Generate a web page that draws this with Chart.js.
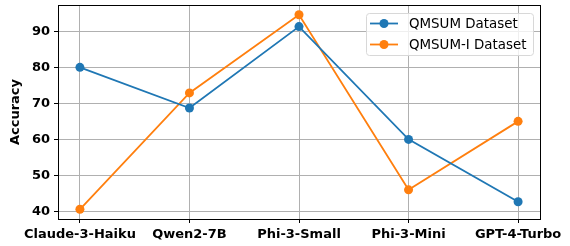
<!DOCTYPE html>
<html>
<head>
<meta charset="utf-8">
<script src="https://cdn.jsdelivr.net/npm/chart.js@4/dist/chart.umd.min.js"></script>
<style>
  html, body { margin: 0; padding: 0; background: #fff; }
  #wrap { width: 570px; height: 246px; }
</style>
</head>
<body>
<div id="wrap"><canvas id="chart" width="570" height="246"></canvas></div>
<script>
const models = ["Claude-3-Haiku", "Qwen2-7B", "Phi-3-Small", "Phi-3-Mini", "GPT-4-Turbo"];
const qmsum = [80.0, 68.7, 91.3, 60.0, 42.7];
const qmsumI = [40.6, 72.9, 94.6, 46.0, 65.0];
const yTicks = [40, 50, 60, 70, 80, 90];

const FONT = "'DejaVu Sans', sans-serif";
const BLUE = "#1f77b4";
const ORANGE = "#ff7f0e";

// legenda di dalam area plot, gaya matplotlib
const legendBox = {
    id: "legendBox",
    afterDraw(chart) {
        const ctx = chart.ctx;
        const a = chart.chartArea;
        const x0 = Math.round(a.right) - 174, y0 = Math.round(a.top) + 8, w = 167, h = 42;
        ctx.save();
        ctx.fillStyle = "rgba(255,255,255,0.8)";
        ctx.strokeStyle = "#d8d8d8";
        ctx.lineWidth = 1;
        ctx.beginPath();
        ctx.roundRect(x0 + 0.5, y0 + 0.5, w, h, 3);
        ctx.fill();
        ctx.stroke();
        const items = [["QMSUM Dataset", BLUE], ["QMSUM-I Dataset", ORANGE]];
        items.forEach((it, i) => {
            const cy = y0 + 10.5 + i * 21;
            ctx.strokeStyle = it[1];
            ctx.lineWidth = 1.8;
            ctx.beginPath();
            ctx.moveTo(x0 + 4, cy);
            ctx.lineTo(x0 + 32, cy);
            ctx.stroke();
            ctx.fillStyle = it[1];
            ctx.beginPath();
            ctx.arc(x0 + 18, cy, 4.5, 0, Math.PI * 2);
            ctx.fill();
            ctx.fillStyle = "#000";
            ctx.font = "13.4px " + FONT;
            ctx.textBaseline = "middle";
            ctx.fillText(it[0], x0 + 43, cy + 1);
        });
        ctx.restore();
    }
};

// bingkai hitam di sekitar area plot
const frame = {
    id: "frame",
    afterDatasetsDraw(chart) {
        const ctx = chart.ctx, a = chart.chartArea;
        ctx.save();
        ctx.strokeStyle = "#000";
        ctx.lineWidth = 1;
        ctx.strokeRect(Math.round(a.left) + 0.5, Math.round(a.top) + 0.5,
            Math.round(a.right - a.left), Math.round(a.bottom - a.top));
        ctx.restore();
    }
};

function toPoints(vals) {
    return vals.map((v, i) => ({ x: i, y: v }));
}

function noPad(scale) {
    scale.paddingTop = 0;
    scale.paddingBottom = 0;
    scale.paddingLeft = 0;
    scale.paddingRight = 0;
}

new Chart(document.getElementById("chart"), {
    type: "line",
    data: {
        datasets: [
            {
                label: "QMSUM Dataset",
                data: toPoints(qmsum),
                borderColor: BLUE,
                backgroundColor: BLUE,
                borderWidth: 1.8,
                pointRadius: 4.5,
                pointHoverRadius: 4.5,
                pointBorderWidth: 0,
                tension: 0
            },
            {
                label: "QMSUM-I Dataset",
                data: toPoints(qmsumI),
                borderColor: ORANGE,
                backgroundColor: ORANGE,
                borderWidth: 1.8,
                pointRadius: 4.5,
                pointHoverRadius: 4.5,
                pointBorderWidth: 0,
                tension: 0
            }
        ]
    },
    options: {
        responsive: false,
        animation: false,
        layout: { padding: { top: 5, right: 30, left: 0, bottom: 0 } },
        plugins: {
            legend: { display: false },
            tooltip: { enabled: false }
        },
        scales: {
            x: {
                type: "linear",
                min: -0.2,
                max: 4.2,
                afterBuildTicks(scale) {
                    scale.ticks = models.map((m, i) => ({ value: i }));
                },
                afterFit(scale) { scale.height = 27; noPad(scale); },
                grid: {
                    color: "#b0b0b0",
                    lineWidth: 1,
                    drawTicks: true,
                    tickLength: 4,
                    tickColor: "#000"
                },
                border: { display: false },
                ticks: {
                    color: "#000",
                    padding: 4,
                    maxRotation: 0,
                    autoSkip: false,
                    font: { family: FONT, size: 13, weight: "bold" },
                    callback: (v) => models[v]
                }
            },
            y: {
                min: 37.9,
                max: 97.3,
                afterBuildTicks(scale) {
                    scale.ticks = yTicks.map(v => ({ value: v }));
                },
                afterFit(scale) { scale.width = 58; noPad(scale); },
                title: {
                    display: true,
                    text: "Accuracy",
                    color: "#000",
                    padding: { top: 8, bottom: 0 },
                    font: { family: FONT, size: 13, weight: "bold" }
                },
                grid: {
                    color: "#b0b0b0",
                    lineWidth: 1,
                    drawTicks: true,
                    tickLength: 4,
                    tickColor: "#000"
                },
                border: { display: false },
                ticks: {
                    color: "#000",
                    padding: 4,
                    font: { family: FONT, size: 13, weight: "bold" }
                }
            }
        }
    },
    plugins: [frame, legendBox]
});
</script>
</body>
</html>
